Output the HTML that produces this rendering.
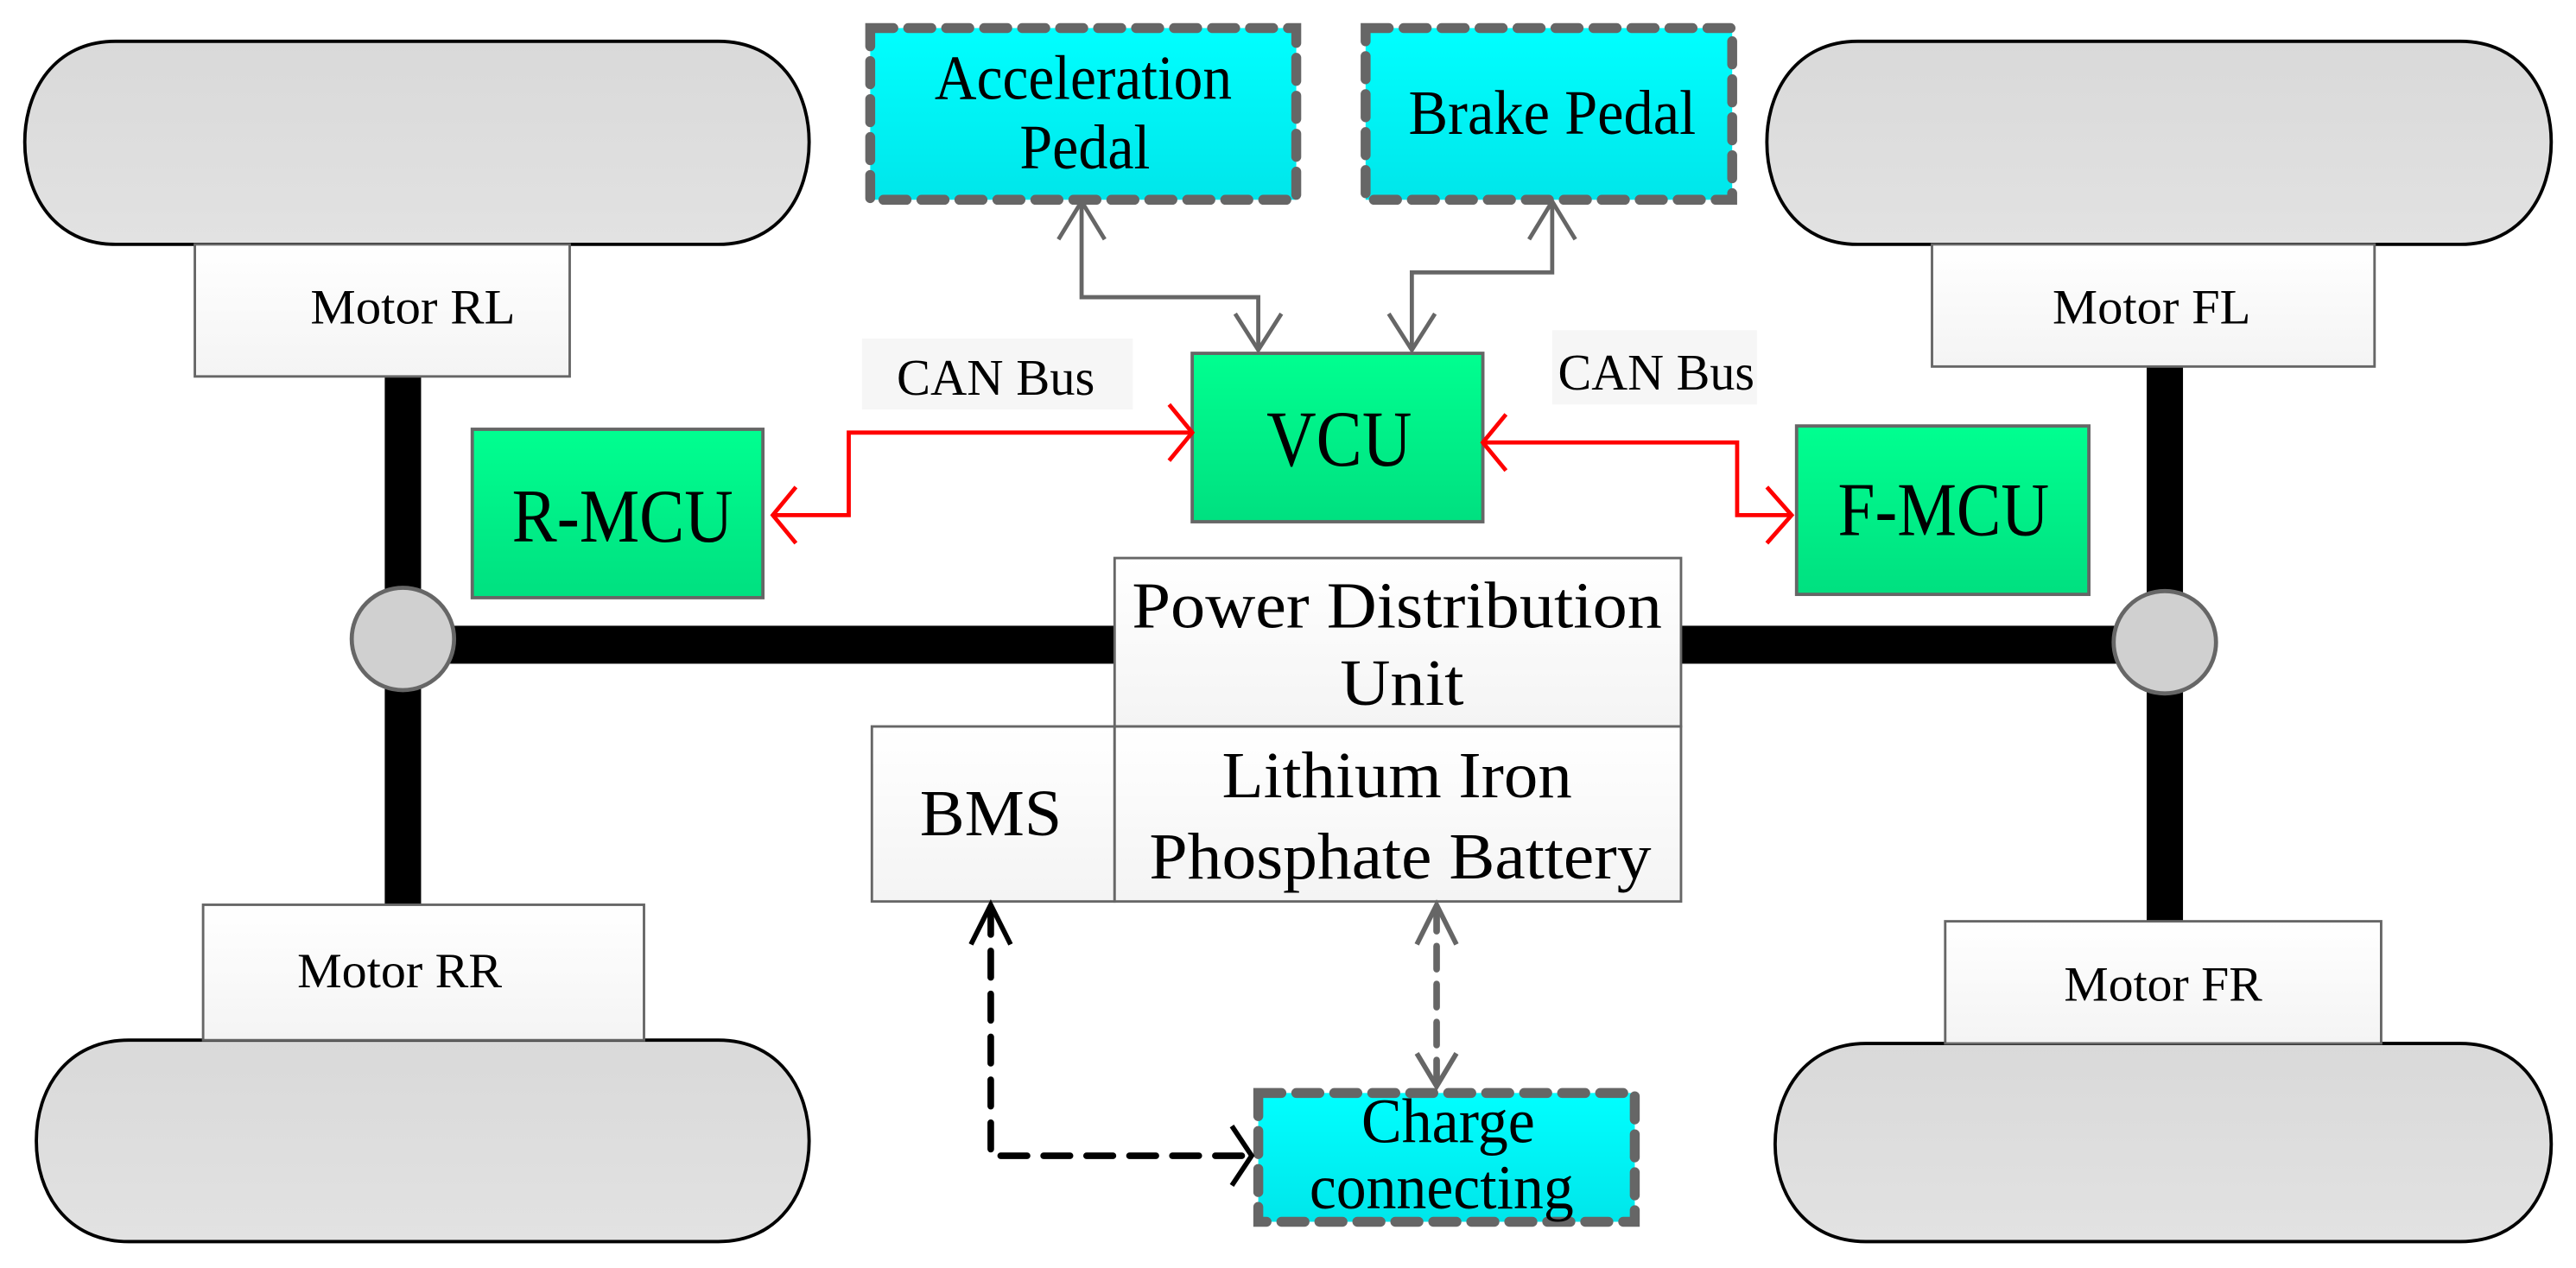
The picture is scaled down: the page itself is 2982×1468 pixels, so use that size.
<!DOCTYPE html>
<html><head><meta charset="utf-8"><style>
html,body{margin:0;padding:0;background:#fff}
svg{display:block}
text{font-family:"Liberation Serif",serif;fill:#000;text-anchor:middle}
</style></head><body>
<svg width="2982" height="1468" viewBox="0 0 1560 768" preserveAspectRatio="none" xmlns="http://www.w3.org/2000/svg">
<defs>
<linearGradient id="gr" x1="0" y1="0" x2="0" y2="1"><stop offset="0" stop-color="#d9d9d9"/><stop offset="1" stop-color="#e2e2e2"/></linearGradient>
<linearGradient id="wh" x1="0" y1="0" x2="0" y2="1"><stop offset="0" stop-color="#fff"/><stop offset="1" stop-color="#f4f4f4"/></linearGradient>
<linearGradient id="gn" x1="0" y1="0" x2="0" y2="1"><stop offset="0" stop-color="#00ff90"/><stop offset="1" stop-color="#00e080"/></linearGradient>
<linearGradient id="cy" x1="0" y1="0" x2="0" y2="1"><stop offset="0" stop-color="#00ffff"/><stop offset="1" stop-color="#00e6ea"/></linearGradient>
</defs>
<g fill="url(#gr)" stroke="#000" stroke-width="2">
<path d="M70,25 H435 C472,25 490,55 490,86 C490,118 472,148 435,148 H70 C33,148 15,118 15,86 C15,55 33,25 70,25 Z"/>
<path d="M78,630 H435 C472,630 490,660 490,691 C490,722 472,752 435,752 H78 C40,752 22,722 22,691 C22,660 40,630 78,630 Z"/>
<path d="M1125,25 H1490 C1527,25 1545,55 1545,86 C1545,118 1527,148 1490,148 H1125 C1088,148 1070,118 1070,86 C1070,55 1088,25 1125,25 Z"/>
<path d="M1130,632 H1490 C1527,632 1545,662 1545,693 C1545,723 1527,752 1490,752 H1130 C1093,752 1075,723 1075,693 C1075,662 1093,632 1130,632 Z"/>
</g>
<g fill="#000">
<rect x="233" y="228" width="22" height="140"/>
<rect x="233" y="400" width="22" height="148"/>
<rect x="260" y="379" width="415" height="23"/>
<rect x="1018" y="379" width="270" height="23"/>
<rect x="1300" y="222" width="22" height="145"/>
<rect x="1300" y="410" width="22" height="150"/>
</g>
<g fill="#d0d0d0" stroke="#666" stroke-width="2.5">
<ellipse cx="244" cy="387" rx="31" ry="31"/>
<ellipse cx="1311" cy="389" rx="31" ry="31"/>
</g>
<g fill="url(#wh)" stroke="#666" stroke-width="1.5">
<rect x="118" y="148" width="227" height="80"/>
<rect x="123" y="548" width="267" height="82"/>
<rect x="1170" y="148" width="268" height="74"/>
<rect x="1178" y="558" width="264" height="74"/>
</g>
<g font-size="30">
<text x="250" y="196" textLength="124" lengthAdjust="spacingAndGlyphs">Motor RL</text>
<text x="242" y="598" textLength="124" lengthAdjust="spacingAndGlyphs">Motor RR</text>
<text x="1303" y="196" textLength="120" lengthAdjust="spacingAndGlyphs">Motor FL</text>
<text x="1310" y="606" textLength="120" lengthAdjust="spacingAndGlyphs">Motor FR</text>
</g>
<rect x="522" y="205" width="164" height="43" fill="#f6f6f6"/>
<rect x="940" y="200" width="124" height="45" fill="#f6f6f6"/>
<text x="603" y="239" font-size="31" textLength="120" lengthAdjust="spacingAndGlyphs">CAN Bus</text>
<text x="1003" y="236" font-size="31" textLength="119" lengthAdjust="spacingAndGlyphs">CAN Bus</text>
<g fill="url(#cy)" stroke="#666" stroke-width="6" stroke-dasharray="14,9" stroke-linecap="round">
<rect x="527" y="17" width="258" height="104"/>
<rect x="827" y="17" width="222" height="104"/>
<rect x="762" y="662" width="228" height="78"/>
</g>
<g font-size="38">
<text x="656" y="60" textLength="180" lengthAdjust="spacingAndGlyphs">Acceleration</text>
<text x="657" y="102" textLength="79" lengthAdjust="spacingAndGlyphs">Pedal</text>
<text x="940" y="81" textLength="174" lengthAdjust="spacingAndGlyphs">Brake Pedal</text>
<text x="877" y="692" textLength="105" lengthAdjust="spacingAndGlyphs">Charge</text>
<text x="873" y="732" textLength="160" lengthAdjust="spacingAndGlyphs">connecting</text>
</g>
<g fill="url(#gn)" stroke="#666" stroke-width="2">
<rect x="722" y="214" width="176" height="102"/>
<rect x="286" y="260" width="176" height="102"/>
<rect x="1088" y="258" width="177" height="102"/>
</g>
<text x="811" y="282" font-size="48" textLength="88" lengthAdjust="spacingAndGlyphs">VCU</text>
<text x="377" y="328" font-size="46" textLength="134" lengthAdjust="spacingAndGlyphs">R-MCU</text>
<text x="1177" y="324" font-size="46" textLength="128" lengthAdjust="spacingAndGlyphs">F-MCU</text>
<g fill="url(#wh)" stroke="#666" stroke-width="1.5">
<rect x="675" y="338" width="343" height="102"/>
<rect x="528" y="440" width="147" height="106"/>
<rect x="675" y="440" width="343" height="106"/>
</g>
<g font-size="40">
<text x="846" y="380" textLength="321" lengthAdjust="spacingAndGlyphs">Power Distribution</text>
<text x="849" y="427" textLength="75" lengthAdjust="spacingAndGlyphs">Unit</text>
<text x="600" y="506" textLength="86" lengthAdjust="spacingAndGlyphs">BMS</text>
<text x="846" y="483" textLength="212" lengthAdjust="spacingAndGlyphs">Lithium Iron</text>
<text x="848" y="532" textLength="304" lengthAdjust="spacingAndGlyphs">Phosphate Battery</text>
</g>
<g fill="none" stroke="#f00" stroke-width="2.5">
<polyline points="722,262 514,262 514,312 468,312"/>
<polyline points="708,245 722,262 708,279"/>
<polyline points="482,295 468,312 482,329"/>
<polyline points="898,268 1052,268 1052,312 1085,312"/>
<polyline points="912,251 898,268 912,285"/>
<polyline points="1070,295 1085,312 1070,329"/>
</g>
<g fill="none" stroke="#666" stroke-width="2.5">
<polyline points="655,122 655,180 762,180 762,212"/>
<polyline points="641,145 655,122 669,145"/>
<polyline points="748,190 762,212 776,190"/>
<polyline points="940,122 940,165 855,165 855,212"/>
<polyline points="926,145 940,122 954,145"/>
<polyline points="841,190 855,212 869,190"/>
</g>
<g fill="none" stroke="#000" stroke-width="4" stroke-dasharray="16,10" stroke-linecap="round">
<polyline points="600,550 600,700 758,700"/>
</g>
<g fill="none" stroke="#000" stroke-width="3">
<polyline points="588,572 600,548 612,572"/>
<polyline points="746,682 758,700 746,718"/>
</g>
<g fill="none" stroke="#666" stroke-width="4" stroke-dasharray="14,9" stroke-linecap="round">
<line x1="870" y1="550" x2="870" y2="655"/>
</g>
<g fill="none" stroke="#666" stroke-width="3">
<polyline points="858,572 870,548 882,572"/>
<polyline points="858,638 870,658 882,638"/>
</g>
</svg>
</body></html>
